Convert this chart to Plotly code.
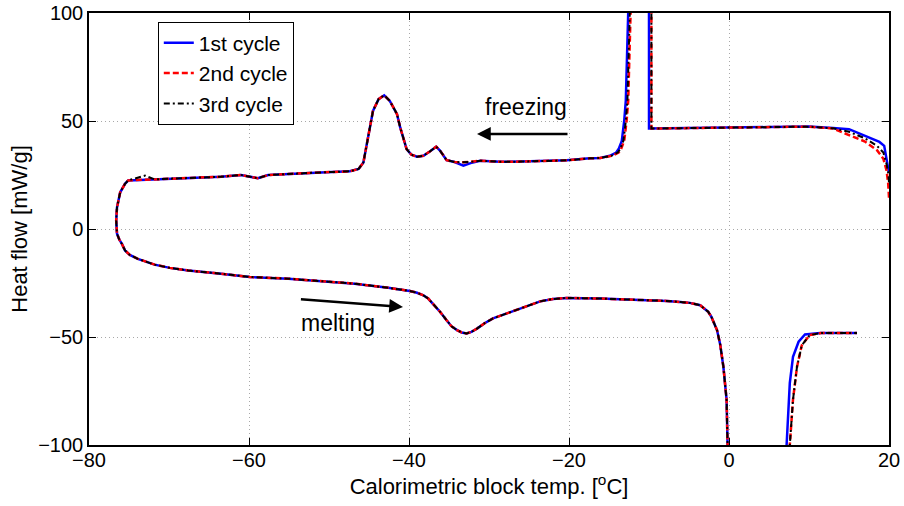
import plotly.graph_objects as go

# ---------------- data ----------------
# Shared cooling-branch segment (from just after the freezing spike down to -76 C)
cool_T = [-16.1, -17.4, -20.3, -23.6, -26.0, -28.6, -31.1, -32.3, -33.2, -34.3, -35.3,
          -36.1, -36.6, -37.4, -38.2, -39.0, -39.7, -40.3, -40.7, -41.1, -41.5, -42.4,
          -43.1, -43.8, -44.5, -44.9, -45.3, -45.7, -46.3, -47.4, -51.0, -55.1, -57.6,
          -58.9, -59.7, -61.0, -63.5, -67.6, -71.8, -73.0, -74.6, -75.1, -75.5, -76.1,
          -76.5, -76.6]
cool_Q1 = [32.9, 32.7, 31.8, 31.3, 31.2, 31.1, 31.6, 30.5, 29.3, 31.0, 31.9,
           36.2, 38.1, 35.9, 33.9, 33.5, 34.4, 37.0, 41.6, 47.0, 53.2, 59.3,
           61.9, 60.1, 54.7, 47.0, 37.8, 30.8, 27.8, 26.7, 26.2, 25.5, 25.0,
           23.5, 24.2, 25.0, 24.2, 23.6, 23.0, 22.9, 22.8, 22.5, 20.9, 17.0,
           10.0, 3.9]
cool_Q2 = [32.9, 32.7, 31.8, 31.3, 31.2, 31.1, 31.6, 31.1, 30.9, 31.0, 31.9,
           36.2, 38.1, 35.9, 33.9, 33.5, 34.4, 37.0, 41.6, 47.0, 53.2, 59.3,
           61.9, 60.1, 54.7, 47.0, 37.8, 30.8, 27.8, 26.7, 26.2, 25.5, 25.0,
           23.5, 24.2, 25.0, 24.2, 23.6, 23.0, 22.9, 22.8, 22.5, 20.9, 17.0,
           10.0, 3.9]
cool_Q3 = [32.9, 32.7, 31.8, 31.3, 31.2, 31.1, 31.6, 31.1, 30.9, 31.0, 31.9,
           36.2, 38.1, 35.9, 33.9, 33.5, 34.4, 37.0, 41.6, 47.0, 53.2, 59.3,
           61.9, 60.1, 54.7, 47.0, 37.8, 30.8, 27.8, 26.7, 26.2, 25.5, 25.0,
           23.5, 24.2, 25.0, 24.2, 23.6, 23.0, 24.7, 22.8, 22.5, 20.9, 17.0,
           10.0, 3.9]

# Shared heating branch (from -76 C up to the melting drop at 0 C)
heat_T = [-76.5, -76.2, -75.9, -75.5, -74.9, -73.9, -72.8, -71.8, -69.9, -67.6, -63.5,
          -59.9, -55.1, -51.0, -46.8, -42.6, -41.1, -39.9, -39.0, -38.2, -37.6, -37.0,
          -36.1, -35.3, -34.7, -34.0, -33.4, -32.8, -32.2, -31.5, -30.5, -29.5, -26.5,
          -23.6, -22.0, -20.3, -16.1, -12.0, -7.8, -6.1, -4.9, -3.6, -3.2, -2.6, -2.2,
          -1.5, -1.1, -0.7, -0.3, -0.1, 0.0, 3.5]
heat_Q = [-2.2, -5.0, -6.8, -9.9, -12.0, -13.8, -15.2, -16.5, -18.0, -19.2, -20.7,
          -22.2, -23.0, -24.1, -25.3, -27.2, -27.9, -28.7, -29.5, -30.7, -32.2, -34.5,
          -38.4, -42.2, -45.0, -46.8, -47.9, -48.4, -47.6, -46.1, -43.5, -41.4, -37.3,
          -33.5, -32.4, -31.9, -32.2, -32.7, -33.3, -33.8, -34.2, -35.3, -36.4, -38.3, -40.7,
          -46.8, -53.5, -63.8, -79.1, -99.0, -130.0, -150.0]

# Cycle-specific start (20 C plateau and freezing spike, going towards colder temps)
start_T1 = [20.0, 19.8, 19.4, 18.8, 17.0, 15.0, 13.0, 10.0, 5.0, 0.0, -5.0, -10.0, -10.0,
            -11.5, -12.4, -12.6, -12.9, -13.1, -13.4, -13.8, -14.1, -14.9]
start_Q1 = [26.0, 30.0, 38.5, 40.3, 43.1, 46.2, 46.8, 47.4, 47.2, 47.0, 46.8, 46.5, 140.0,
            150.0, 115.0, 100.0, 59.3, 50.0, 40.8, 37.0, 35.4, 33.9]
start_T2 = [20.0, 19.9, 19.7, 19.3, 18.5, 17.0, 15.0, 13.0, 10.0, 5.0, 0.0, -5.0, -9.7, -9.7,
            -11.2, -12.1, -12.3, -12.6, -12.8, -13.1, -13.5, -13.8, -14.6]
start_Q2 = [14.5, 21.0, 27.0, 32.5, 36.5, 40.5, 43.5, 46.5, 47.4, 47.2, 47.0, 46.8, 46.5, 140.0,
            150.0, 115.0, 100.0, 59.3, 50.0, 40.8, 37.0, 35.4, 33.9]
start_T3 = [20.0, 19.9, 19.7, 19.3, 18.5, 17.0, 15.0, 13.0, 10.0, 5.0, 0.0, -5.0, -9.7, -9.7,
            -11.2, -12.2, -12.4, -12.7, -12.9, -13.2, -13.6, -13.9, -14.7]
start_Q3 = [21.6, 26.0, 30.0, 35.4, 38.5, 42.0, 45.0, 46.6, 47.4, 47.2, 47.0, 46.8, 46.5, 140.0,
            150.0, 115.0, 100.0, 59.3, 50.0, 40.8, 37.0, 35.4, 33.9]

# Cycle-specific end (recovery after melting, up to 16 C)
end_T1 = [7.1, 7.2, 7.4, 7.6, 8.0, 8.7, 9.5, 11.4, 16.0]
end_Q1 = [-130.0, -100.0, -86.8, -71.4, -59.2, -52.2, -48.8, -48.1, -48.1]
end_T2 = [7.5, 7.6, 8.0, 8.5, 9.1, 10.1, 11.5, 16.0]
end_Q2 = [-130.0, -100.0, -79.0, -63.8, -53.8, -49.1, -48.2, -48.1]
end_T3 = [7.5, 7.6, 8.0, 8.5, 9.1, 10.1, 11.5, 16.0]
end_Q3 = [-130.0, -100.0, -79.0, -63.8, -53.8, -49.1, -48.2, -48.1]

series_names = ["1st cycle", "2nd cycle", "3rd cycle"]
x_ticks = [-80, -60, -40, -20, 0, 20]
y_ticks = [-100, -50, 0, 50, 100]

# ---------------- figure ----------------
FONT = "Liberation Sans, Arial, Helvetica, sans-serif"

cycles = [
    (start_T1 + cool_T + heat_T + end_T1, start_Q1 + cool_Q1 + heat_Q + end_Q1,
     dict(color="#0000ff", width=2.5, dash="solid")),
    (start_T2 + cool_T + heat_T + end_T2, start_Q2 + cool_Q2 + heat_Q + end_Q2,
     dict(color="#ff0000", width=2.5, dash="6px,3px")),
    (start_T3 + cool_T + heat_T + end_T3, start_Q3 + cool_Q3 + heat_Q + end_Q3,
     dict(color="#000000", width=2.0, dash="6px,3px,2px,3px")),
]

fig = go.Figure()
for name, (tx, qy, ln) in zip(series_names, cycles):
    fig.add_trace(go.Scatter(x=tx, y=qy, mode="lines", name=name, line=ln))

axis_common = dict(
    showline=True, linecolor="black", linewidth=1.5, mirror="allticks",
    ticks="inside", ticklen=7, tickwidth=1, tickcolor="black",
    showgrid=True, gridcolor="#a8a8a8", griddash="1px,3px", gridwidth=1,
    zeroline=False, tickfont=dict(family=FONT, size=20, color="black"),
)

fig.update_xaxes(range=[-80, 20], tickvals=x_ticks, **axis_common, ticklabelstandoff=-4,
                 title=dict(text="Calorimetric block temp. [<sup>o</sup>C]",
                            font=dict(family=FONT, size=22, color="black"), standoff=4))
fig.update_yaxes(range=[-100, 100], tickvals=y_ticks, **axis_common,
                 title=dict(text="Heat flow [mW/g]",
                            font=dict(family=FONT, size=22, color="black"), standoff=4))

fig.add_annotation(x=-31.5, y=44, ax=-20, ay=44, xref="x", yref="y", axref="x", ayref="y",
                   text="", showarrow=True, arrowhead=2, arrowsize=1.1, arrowwidth=2.5, arrowcolor="black")
fig.add_annotation(x=-25.4, y=56.5, xref="x", yref="y", text="freezing", showarrow=False,
                   font=dict(family=FONT, size=23, color="black"))
fig.add_annotation(x=-40.75, y=-36.1, ax=-53.7, ay=-32.5, xref="x", yref="y", axref="x", ayref="y",
                   text="", showarrow=True, arrowhead=2, arrowsize=1.1, arrowwidth=2.5, arrowcolor="black")
fig.add_annotation(x=-48.9, y=-43.6, xref="x", yref="y", text="melting", showarrow=False,
                   font=dict(family=FONT, size=23, color="black"))

fig.update_layout(
    width=904, height=506,
    margin=dict(l=89, r=15, t=13, b=61, autoexpand=False),
    paper_bgcolor="white", plot_bgcolor="white",
    font=dict(family=FONT, size=20, color="black"),
    legend=dict(x=0.086, y=0.98, xanchor="left", yanchor="top",
                bgcolor="white", bordercolor="black", borderwidth=1,
                font=dict(family=FONT, size=21, color="black"),
                itemwidth=30, tracegroupgap=0),
    showlegend=True,
)

fig.write_html("out.html")
